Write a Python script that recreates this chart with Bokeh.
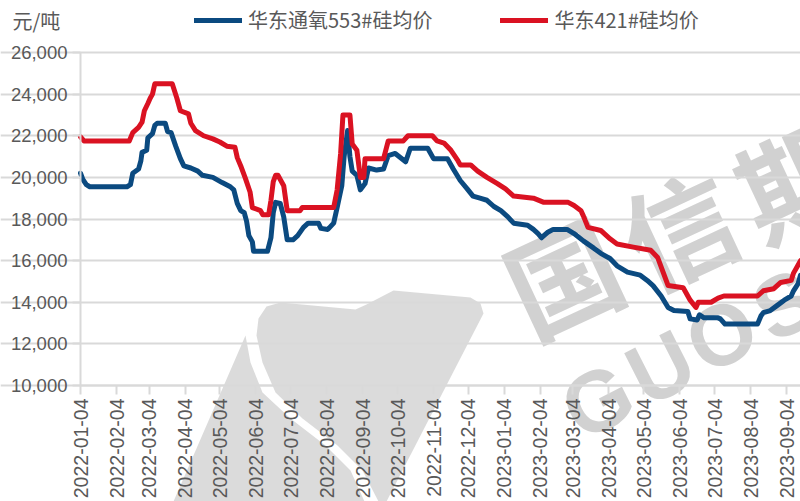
import math
import pandas as pd
from bokeh.plotting import figure
from bokeh.models import (Range1d, FixedTicker, NumeralTickFormatter, DatetimeTickFormatter,
                          Legend, LegendItem, Label, PolyAnnotation)
from bokeh.embed import file_html
from bokeh.resources import INLINE
from bokeh.core.properties import value

# ---------------- data ----------------
series_553_name = "华东通氧553#硅均价"
series_421_name = "华东421#硅均价"
unit_label = "元/吨"

dates_553 = [
    "2022-01-04", "2022-01-06", "2022-01-09", "2022-01-12", "2022-02-13", "2022-02-16", "2022-02-18",
    "2022-02-23", "2022-02-25", "2022-02-26", "2022-03-02", "2022-03-03", "2022-03-07", "2022-03-09",
    "2022-03-11", "2022-03-18", "2022-03-20", "2022-03-23", "2022-03-27", "2022-03-31", "2022-04-03",
    "2022-04-09", "2022-04-15", "2022-04-19", "2022-04-28", "2022-05-06", "2022-05-13", "2022-05-16",
    "2022-05-19", "2022-05-22", "2022-05-25", "2022-05-27", "2022-05-29", "2022-06-01", "2022-06-02",
    "2022-06-14", "2022-06-17", "2022-06-19", "2022-06-21", "2022-06-25", "2022-06-28", "2022-07-01",
    "2022-07-06", "2022-07-10", "2022-07-15", "2022-07-19", "2022-07-28", "2022-07-30", "2022-08-05",
    "2022-08-10", "2022-08-13", "2022-08-17", "2022-08-19", "2022-08-22", "2022-08-24", "2022-08-26",
    "2022-08-30", "2022-09-02", "2022-09-06", "2022-09-09", "2022-09-16", "2022-09-22", "2022-09-26",
    "2022-10-02", "2022-10-11", "2022-10-15", "2022-10-30", "2022-11-04", "2022-11-16", "2022-11-21",
    "2022-11-27", "2022-12-03", "2022-12-08", "2022-12-14", "2022-12-20", "2022-12-26", "2023-01-01",
    "2023-01-07", "2023-01-12", "2023-01-24", "2023-01-29", "2023-02-02", "2023-02-05", "2023-02-10",
    "2023-02-15", "2023-02-27", "2023-03-05", "2023-03-13", "2023-03-22", "2023-03-28", "2023-04-05",
    "2023-04-11", "2023-04-20", "2023-05-01", "2023-05-07", "2023-05-12", "2023-05-19", "2023-05-25",
    "2023-05-30", "2023-06-11", "2023-06-13", "2023-06-19", "2023-06-21", "2023-06-25", "2023-07-07",
    "2023-07-09", "2023-07-13", "2023-08-10", "2023-08-13", "2023-08-15", "2023-08-21", "2023-08-27",
    "2023-09-02", "2023-09-08", "2023-09-10", "2023-09-14", "2023-09-16",
]
values_553 = [
    20200, 19900, 19650, 19550, 19550, 19650, 20200,
    20400, 20800, 21200, 21300, 21900, 22100, 22500,
    22600, 22600, 22200, 22150, 21500, 20900, 20550,
    20450, 20300, 20100, 20000, 19750, 19550, 19400,
    18750, 18400, 18300, 17900, 17200, 16900, 16450,
    16450, 17100, 18300, 18800, 18750, 18100, 17000,
    17000, 17200, 17600, 17800, 17800, 17550, 17500,
    17800, 18550, 19600, 21000, 22250, 21000, 20300,
    20100, 19400, 19700, 20450, 20350, 20400, 21050,
    21150, 20750, 21400, 21400, 20900, 20900, 20400,
    19850, 19450, 19100, 19000, 18900, 18600, 18400,
    18100, 17800, 17700, 17500, 17300, 17100, 17350,
    17500, 17500, 17300, 16950, 16600, 16350, 16100,
    15750, 15450, 15300, 15050, 14800, 14300, 13750,
    13600, 13550, 13200, 13150, 13400, 13250, 13250,
    13200, 12950, 12950, 13350, 13500, 13600, 13850,
    14100, 14300, 14550, 14900, 15300,
]

dates_421 = [
    "2022-01-04", "2022-01-07", "2022-02-15", "2022-02-18", "2022-02-23", "2022-02-26", "2022-02-28",
    "2022-03-03", "2022-03-05", "2022-03-07", "2022-03-09", "2022-03-24", "2022-03-28", "2022-03-31",
    "2022-04-07", "2022-04-09", "2022-04-13", "2022-04-20", "2022-04-28", "2022-05-04", "2022-05-10",
    "2022-05-17", "2022-05-19", "2022-05-22", "2022-05-26", "2022-05-30", "2022-06-01", "2022-06-08",
    "2022-06-10", "2022-06-15", "2022-06-17", "2022-06-19", "2022-06-21", "2022-06-23", "2022-06-28",
    "2022-07-01", "2022-07-12", "2022-07-14", "2022-08-10", "2022-08-13", "2022-08-16", "2022-08-18",
    "2022-08-24", "2022-08-26", "2022-08-30", "2022-09-02", "2022-09-05", "2022-09-06", "2022-09-22",
    "2022-09-26", "2022-10-09", "2022-10-13", "2022-11-03", "2022-11-07", "2022-11-13", "2022-11-19",
    "2022-11-25", "2022-11-27", "2022-12-06", "2022-12-12", "2022-12-20", "2022-12-29", "2023-01-05",
    "2023-01-12", "2023-01-29", "2023-02-07", "2023-02-28", "2023-03-05", "2023-03-11", "2023-03-13",
    "2023-03-17", "2023-03-28", "2023-04-05", "2023-04-11", "2023-04-25", "2023-05-10", "2023-05-16",
    "2023-05-21", "2023-05-25", "2023-06-07", "2023-06-13", "2023-06-18", "2023-06-20", "2023-07-01",
    "2023-07-07", "2023-07-12", "2023-08-10", "2023-08-15", "2023-08-24", "2023-08-30", "2023-09-08",
    "2023-09-10", "2023-09-16",
]
values_421 = [
    21950, 21750, 21750, 22150, 22400, 22650, 23200,
    23550, 23800, 24000, 24500, 24500, 23800, 23200,
    23050, 22600, 22250, 22000, 21850, 21700, 21500,
    21450, 20950, 20550, 19950, 19300, 18550, 18400,
    18200, 18200, 18900, 19800, 20100, 20100, 19600,
    18400, 18400, 18550, 18550, 19400, 21150, 23000,
    23000, 21600, 21300, 20000, 20000, 20900, 20900,
    21750, 21750, 22000, 22000, 21750, 21650, 21300,
    20800, 20600, 20600, 20300, 20000, 19700, 19450,
    19100, 19000, 18800, 18800, 18650, 18400, 18150,
    17600, 17450, 17050, 16800, 16650, 16500, 16150,
    15400, 14800, 14700, 14100, 13750, 14000, 14000,
    14200, 14300, 14300, 14550, 14650, 14950, 15050,
    15400, 16000,
]

x_tick_labels = [
    "2022-01-04", "2022-02-04", "2022-03-04", "2022-04-04", "2022-05-04", "2022-06-04",
    "2022-07-04", "2022-08-04", "2022-09-04", "2022-10-04", "2022-11-04", "2022-12-04",
    "2023-01-04", "2023-02-04", "2023-03-04", "2023-04-04", "2023-05-04", "2023-06-04",
    "2023-07-04", "2023-08-04", "2023-09-04",
]
y_ticks = [10000, 12000, 14000, 16000, 18000, 20000, 22000, 24000, 26000]
x_start, x_end = "2022-01-04", "2023-09-16"

# ---------------- layout / styles ----------------
W, H = 800, 501
PLOT_L, PLOT_R, PLOT_T, PLOT_B = 80, 800, 52, 385   # where the axes box sits on the canvas

BLUE = "#0B4A80"
RED = "#DA1222"
TEXT = "#595959"
GRID = "#D9D9D9"
LATIN = "Liberation Sans"
CJK = "Noto Sans CJK SC"

t0 = pd.Timestamp(x_start)
t1 = pd.Timestamp(x_end)
ms_per_px = (t1 - t0).total_seconds() * 1000 / (PLOT_R - PLOT_L)
val_per_px = (y_ticks[-1] - y_ticks[0]) / (PLOT_B - PLOT_T)
x_lo = t0.value / 1e6 - PLOT_L * ms_per_px
x_hi = t1.value / 1e6 + (W - PLOT_R) * ms_per_px
y_lo = y_ticks[0] - (H - PLOT_B) * val_per_px
y_hi = y_ticks[-1] + PLOT_T * val_per_px

p = figure(width=W, height=H, output_backend="svg", toolbar_location=None,
           x_axis_type="datetime",
           x_range=Range1d(x_lo, x_hi), y_range=Range1d(y_lo, y_hi),
           min_border=0, min_border_left=0, min_border_right=0, min_border_top=0, min_border_bottom=0)
p.outline_line_color = None
p.background_fill_color = "white"
p.border_fill_color = "white"

# watermark (decoration), canvas pixel coords -> frame screen coords
def fx(px):
    return px
def fy(py):
    return H - py

wm_color = "#9a9a9a"
wedge = [(173, 501), (245, 335), (250, 362), (262, 392), (290, 418), (325, 445), (350, 470), (364, 501)]
body = [(258, 318), (266, 306), (280, 302), (355, 309), (366, 304), (393, 290), (470, 297), (480, 303),
        (483, 313), (386, 501), (378, 501), (362, 470), (337, 445), (302, 418), (275, 392), (262, 362), (256, 335)]
for shape in (wedge, body):
    p.add_layout(PolyAnnotation(xs=[fx(a) for a, b in shape], ys=[fy(b) for a, b in shape],
                                xs_units="screen", ys_units="screen",
                                fill_color=wm_color, fill_alpha=0.36, line_color=None, level="image"))
for ch, (cx, cy) in zip("国信期", [(561, 273), (677, 225), (792, 177)]):
    p.add_layout(Label(x=fx(cx), y=fy(cy), x_units="screen", y_units="screen", text=ch,
                       angle=25, angle_units="deg", text_font=CJK, text_font_style="bold",
                       text_font_size="112px", text_color=wm_color, text_alpha=0.45,
                       text_align="center", text_baseline="middle", level="image"))
for ch, (cx, cy) in zip("GUOS", [(597, 400), (660, 367), (721, 334), (784, 304)]):
    p.add_layout(Label(x=fx(cx), y=fy(cy), x_units="screen", y_units="screen", text=ch,
                       angle=27, angle_units="deg", text_font=LATIN, text_font_style="bold",
                       text_font_size="86px", text_color=wm_color, text_alpha=0.45,
                       text_align="center", text_baseline="middle", level="image"))

# grid & axes (axes placed at fixed data positions inside the canvas)
p.xgrid.visible = False
p.ygrid.grid_line_color = GRID
p.ygrid.grid_line_width = 2
p.ygrid.ticker = FixedTicker(ticks=y_ticks)
p.ygrid.bounds = (t0.value / 1e6, x_hi)

p.yaxis.ticker = FixedTicker(ticks=y_ticks)
p.yaxis.formatter = NumeralTickFormatter(format="0,0")
p.yaxis.bounds = (y_ticks[0], y_ticks[-1])
p.yaxis.fixed_location = t0.value / 1e6
p.xaxis.ticker = FixedTicker(ticks=[pd.Timestamp(t).value / 1e6 for t in x_tick_labels])
fmt = "%Y-%m-%d"
p.xaxis.formatter = DatetimeTickFormatter(microseconds=fmt, milliseconds=fmt, seconds=fmt, minsec=fmt,
                                          minutes=fmt, hourmin=fmt, hours=fmt, days=fmt, months=fmt, years=fmt)
p.xaxis.major_label_orientation = math.pi / 2
p.xaxis.bounds = (t0.value / 1e6, x_hi)
p.xaxis.fixed_location = y_ticks[0]

for ax in (p.xaxis, p.yaxis):
    ax.axis_line_color = GRID
    ax.axis_line_width = 2
    ax.major_tick_line_color = GRID
    ax.major_tick_line_width = 2
    ax.major_tick_in = 0
    ax.minor_tick_line_color = None
    ax.major_label_text_color = TEXT
    ax.major_label_text_font = LATIN
p.yaxis.major_label_text_font_size = "18.5px"
p.xaxis.major_label_text_font_size = "19.5px"
p.yaxis.major_tick_out = 8
p.yaxis.major_label_standoff = 5
p.xaxis.major_tick_out = 9
p.xaxis.major_label_standoff = 4

# series
x553 = pd.to_datetime(dates_553)
x421 = pd.to_datetime(dates_421)
r553 = p.line(x553, values_553, line_color=BLUE, line_width=5, line_join="round", line_cap="round")
r421 = p.line(x421, values_421, line_color=RED, line_width=5, line_join="round", line_cap="round")

legend = Legend(items=[LegendItem(label=value(series_553_name), renderers=[r553]),
                       LegendItem(label=value(series_421_name), renderers=[r421])],
                orientation="horizontal", location=(194, H - 20 - 14),
                glyph_width=48, glyph_height=20, label_height=20, label_standoff=6, spacing=68,
                padding=0, margin=0, border_line_color=None, background_fill_alpha=0,
                label_text_font=CJK, label_text_font_size="20px", label_text_color=TEXT)
p.add_layout(legend)

p.add_layout(Label(x=fx(12), y=fy(20), x_units="screen", y_units="screen", text=unit_label,
                   text_font=CJK, text_font_size="20px", text_color=TEXT,
                   text_align="left", text_baseline="middle"))

open("out.html", "w").write(file_html(p, INLINE))
